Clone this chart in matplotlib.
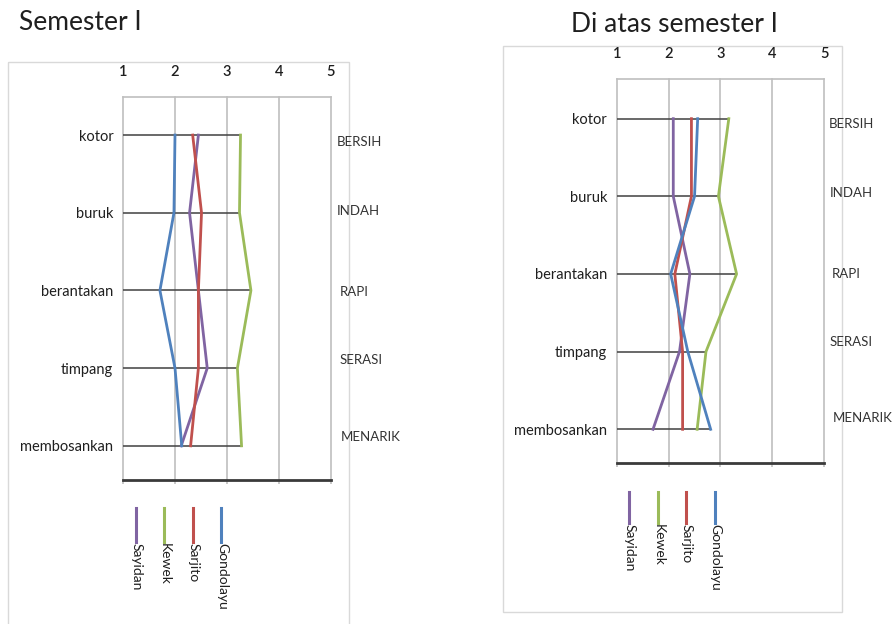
import matplotlib
matplotlib.use("Agg")
import matplotlib.pyplot as plt
from matplotlib.patches import Rectangle
from matplotlib.lines import Line2D

# ---- data -------------------------------------------------------------
categories = ["kotor", "buruk", "berantakan", "timpang", "membosankan"]
opposites = ["BERSIH", "INDAH", "RAPI", "SERASI", "MENARIK"]
series_names = ["Sayidan", "Kewek", "Sarjito", "Gondolayu"]
scale_ticks = [1, 2, 3, 4, 5]

# Semester I
sayidan_s1 = [2.45, 2.28, 2.45, 2.62, 2.12]
kewek_s1 = [3.26, 3.24, 3.46, 3.20, 3.28]
sarjito_s1 = [2.34, 2.51, 2.45, 2.45, 2.30]
gondolayu_s1 = [2.00, 1.98, 1.71, 2.00, 2.13]

# Di atas semester I
sayidan_s2 = [2.09, 2.09, 2.41, 2.21, 1.70]
kewek_s2 = [3.16, 2.96, 3.31, 2.72, 2.55]
sarjito_s2 = [2.44, 2.44, 2.12, 2.27, 2.27]
gondolayu_s2 = [2.56, 2.50, 2.04, 2.37, 2.81]

colors = ["#8064A2", "#9BBB59", "#C0504D", "#4F81BD"]

# ---- figure -------------------------------------------------------------
W, H = 895, 624
plt.rcParams['font.family'] = ['Lato', 'DejaVu Sans']
fig = plt.figure(figsize=(W / 100, H / 100), dpi=100)

overlay = fig.add_axes([0, 0, 1, 1])
overlay.set_xlim(0, W)
overlay.set_ylim(H, 0)
overlay.axis('off')

TEXT = "#1f1f1f"
GRID = "#BFBFBF"


def px_axes(x0, x1, y0, y1):
    return fig.add_axes([x0 / W, 1 - y1 / H, (x1 - x0) / W, (y1 - y0) / H])


def panel(box, ylim, data, frame, title, title_xy, opp_xy, legend_x, legend_y):
    # frame and title
    overlay.add_patch(Rectangle(frame[:2], frame[2], frame[3], fill=False,
                                edgecolor="#D9D9D9", lw=1.0))
    overlay.text(*title_xy, title, fontsize=19, color=TEXT, ha='left', va='center')

    ax = px_axes(*box)
    ax.patch.set_visible(False)
    ax.set_xlim(1, 5)
    ax.set_ylim(*ylim)

    for v in scale_ticks:
        ax.axvline(v, color=GRID, lw=1.2, zorder=1, clip_on=False)
    for side in ("left", "right"):
        ax.spines[side].set_visible(False)
    ax.spines["top"].set_color(GRID)
    ax.spines["top"].set_linewidth(1.2)
    ax.spines["bottom"].set_color("#3a3a3a")
    ax.spines["bottom"].set_linewidth(2.0)

    ax.set_xticks(scale_ticks)
    ax.set_xticklabels([str(t) for t in scale_ticks], fontweight='semibold')
    ax.tick_params(axis='x', bottom=True, top=False, labelbottom=False,
                   labeltop=True, length=3, width=1.2, color=GRID, pad=10,
                   labelsize=10.5, labelcolor=TEXT)
    ax.set_yticks(range(len(categories)))
    ax.set_yticklabels(categories)
    ax.tick_params(axis='y', left=False, right=False, length=0, pad=7,
                   labelsize=10.5, labelcolor=TEXT)

    rows = list(range(len(categories)))
    row_max = [max(vals[i] for vals in data) for i in rows]
    ax.hlines(rows, 1, row_max, color="#404040", lw=1.1, zorder=2)

    for vals, c in zip(data, colors):
        ax.plot(vals, rows, color=c, lw=2.0, zorder=3)

    # opposite-pole labels on the right
    for label, (x, y) in zip(opposites, opp_xy):
        overlay.text(x, y, label, fontsize=9.5, color="#333333",
                     ha='left', va='center')

    # legend with vertical keys and rotated names
    for name, c, x in zip(series_names, colors, legend_x):
        overlay.add_line(Line2D([x, x], legend_y, color=c, lw=2.2))
        overlay.text(x + 1, legend_y[1] + 1, name, rotation=270, fontsize=10,
                     color=TEXT, ha='center', va='top')
    return ax


panel(box=(123, 331, 97, 480), ylim=(4.44, -0.49),
      data=[sayidan_s1, kewek_s1, sarjito_s1, gondolayu_s1],
      frame=(8, 62, 341, 600), title="Semester I", title_xy=(19, 23),
      opp_xy=[(337, 142), (337, 211), (340, 292), (340, 360), (341, 437)],
      legend_x=[135.7, 164, 192.7, 221], legend_y=[508, 541.7])

panel(box=(616.7, 824.3, 79.3, 462.7), ylim=(4.43, -0.507),
      data=[sayidan_s2, kewek_s2, sarjito_s2, gondolayu_s2],
      frame=(503, 46, 339, 566), title="Di atas semester I", title_xy=(571, 25),
      opp_xy=[(829, 124), (829.7, 192.7), (832, 274), (829.7, 341.7), (833, 418)],
      legend_x=[629, 657.7, 686, 714.7], legend_y=[491.7, 523.3])

fig.savefig("out.png", dpi=100)
